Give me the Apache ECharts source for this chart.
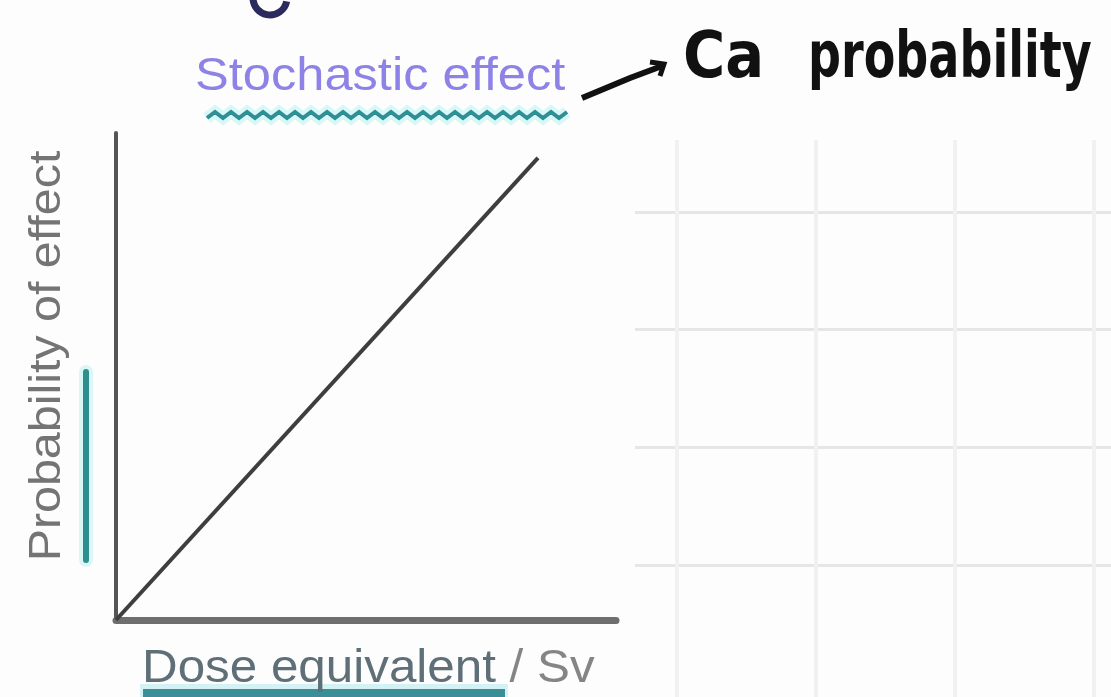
<!DOCTYPE html>
<html>
<head>
<meta charset="utf-8">
<script src="https://cdn.jsdelivr.net/npm/echarts@6/dist/echarts.min.js"></script>
<style>
  html, body { margin: 0; padding: 0; background: #fdfdfd; }
  #chart { width: 1111px; height: 697px; }
</style>
</head>
<body>
<div id="chart"></div>
<script>
(function() {
    // data: straight line through the origin
    var doseValues = [0, 8.44];
    var probabilityValues = [0, 9.49];
    var titleText = 'Stochastic effect';
    var noteWord1 = 'Ca';
    var noteWord2 = 'probability';
    var yName = 'Probability of effect';
    var xNameMain = 'Dose equivalent';
    var xNameUnit = ' / Sv';

    var myChart = echarts.init(document.getElementById('chart'));

    var linePoints = doseValues.map(function(d, i) {
        return [d, probabilityValues[i]];
    });

    // wavy underline under the title
    var wave = [];
    for (var i = 0; i <= 45; i++) {
        wave.push([207 + i * 8, 115 + (i % 2 ? -3 : 3)]);
    }

    var option = {
        backgroundColor: '#fdfdfd',
        animation: false,
        grid: [
            { left: 116, top: 133, width: 500, height: 487 },
            // graph paper on the right: vertical rules
            { left: 677, right: 17, top: 140, bottom: 0 },
            // graph paper: horizontal rules
            { left: 635, right: 0, top: 212, height: 353 }
        ],
        xAxis: [
            {
                gridIndex: 0, type: 'value', min: 0, max: 10,
                axisLine: { show: true, lineStyle: { color: '#6e6e6e', width: 7 } },
                axisTick: { show: false }, axisLabel: { show: false },
                splitLine: { show: false }
            },
            {
                gridIndex: 1, type: 'value', min: 0, max: 3, interval: 1,
                axisLine: { show: false }, axisTick: { show: false }, axisLabel: { show: false },
                splitLine: { show: true, lineStyle: { color: '#f1f1f1', width: 4 } }
            },
            {
                gridIndex: 2, type: 'value', min: 0, max: 1, show: false
            }
        ],
        yAxis: [
            {
                gridIndex: 0, type: 'value', min: 0, max: 10,
                axisLine: { show: true, lineStyle: { color: '#555', width: 4 } },
                axisTick: { show: false }, axisLabel: { show: false },
                splitLine: { show: false }
            },
            {
                gridIndex: 1, type: 'value', min: 0, max: 1, show: false
            },
            {
                gridIndex: 2, type: 'value', min: 0, max: 3, interval: 1,
                axisLine: { show: false }, axisTick: { show: false }, axisLabel: { show: false },
                splitLine: { show: true, lineStyle: { color: '#e6e6e6', width: 3 } }
            }
        ],
        series: [{
            type: 'line',
            xAxisIndex: 0,
            yAxisIndex: 0,
            data: linePoints,
            symbol: 'none',
            lineStyle: { color: '#3e3e3e', width: 4 }
        }],
        graphic: [
            // bottom of a cut-off heading letter
            {
                type: 'arc',
                shape: { cx: 270, cy: -2, r: 17, startAngle: 0.2, endAngle: Math.PI - 0.1 },
                style: { stroke: '#2a2a5c', lineWidth: 7, fill: null }
            },
            {
                type: 'text', x: 195, y: 54, scaleX: 1.1,
                style: { text: titleText, font: '46px "Liberation Sans"', fill: '#8d82e6' }
            },
            {
                type: 'polyline',
                shape: { points: wave },
                style: { stroke: '#bff3f3', lineWidth: 12, fill: null, opacity: 0.6 }
            },
            {
                type: 'polyline',
                shape: { points: wave },
                style: { stroke: '#2f8f96', lineWidth: 4, fill: null }
            },
            // handwritten arrow
            {
                type: 'polyline',
                shape: { points: [[582, 98], [630, 78], [662, 66]] },
                style: { stroke: '#111', lineWidth: 6, fill: null }
            },
            {
                type: 'polyline',
                shape: { points: [[650, 62], [664, 64], [660, 76]] },
                style: { stroke: '#111', lineWidth: 5, fill: null }
            },
            {
                type: 'text', x: 683, y: 28,
                style: { text: noteWord1, font: 'bold 64px "DejaVu Sans Condensed"', fill: '#111' }
            },
            {
                type: 'text', x: 808, y: 28, scaleX: 0.8,
                style: { text: noteWord2, font: 'bold 64px "DejaVu Sans Condensed"', fill: '#111' }
            },
            // y axis name with teal marker
            {
                type: 'text', x: 48, y: 356, rotation: Math.PI / 2, scaleX: 1.1,
                style: {
                    text: yName, font: '44px "Liberation Sans"', fill: '#747474',
                    align: 'center', verticalAlign: 'middle'
                }
            },
            {
                type: 'line',
                shape: { x1: 86, y1: 372, x2: 86, y2: 560 },
                style: { stroke: '#c4f2f2', lineWidth: 14, lineCap: 'round', opacity: 0.6 }
            },
            {
                type: 'line',
                shape: { x1: 86, y1: 372, x2: 86, y2: 560 },
                style: { stroke: '#2f8f8f', lineWidth: 6, lineCap: 'round' }
            },
            // x axis name, first part underlined
            {
                type: 'rect',
                shape: { x: 140, y: 684, width: 368, height: 13 },
                style: { fill: '#c8eff2', opacity: 0.8 }
            },
            {
                type: 'rect',
                shape: { x: 143, y: 689, width: 362, height: 8 },
                style: { fill: '#3c8e96' }
            },
            {
                type: 'text', x: 142, y: 646, scaleX: 1.05,
                style: {
                    text: '{a|' + xNameMain + '}{b|' + xNameUnit + '}',
                    rich: {
                        a: { font: '47px "Liberation Sans"', fill: '#5f6f78' },
                        b: { font: '47px "Liberation Sans"', fill: '#858585' }
                    }
                }
            }
        ]
    };

    myChart.setOption(option);

    window.onresize = function() {
        myChart.resize();
    };
})();
</script>
</body>
</html>
